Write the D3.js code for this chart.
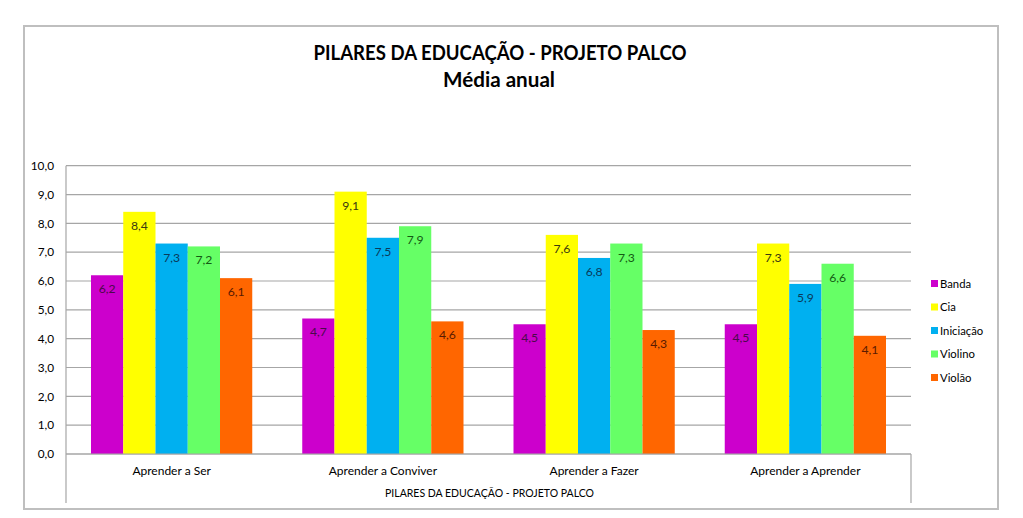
<!DOCTYPE html>
<html>
<head>
<meta charset="utf-8">
<script src="https://cdn.jsdelivr.net/npm/d3@7"></script>
<style>
  html, body { margin: 0; padding: 0; background: #ffffff; }
  svg { display: block; font-family: Lato, "Open Sans", sans-serif; }
</style>
</head>
<body>
<svg id="chart" width="1023" height="518"></svg>
<script>
const categories = ["Aprender a Ser", "Aprender a Conviver", "Aprender a Fazer", "Aprender a Aprender"];
const seriesNames = ["Banda", "Cia", "Iniciação", "Violino", "Violão"];
const banda     = [6.2, 4.7, 4.5, 4.5];
const cia       = [8.4, 9.1, 7.6, 7.3];
const iniciacao = [7.3, 7.5, 6.8, 5.9];
const violino   = [7.2, 7.9, 7.3, 6.6];
const violao    = [6.1, 4.6, 4.3, 4.1];
const yTicks = [0, 1, 2, 3, 4, 5, 6, 7, 8, 9, 10];
const titleText = "PILARES DA EDUCAÇÃO - PROJETO PALCO";
const subtitleText = "Média anual";
const axisTitleText = "PILARES DA EDUCAÇÃO - PROJETO PALCO";

const seriesValues = [banda, cia, iniciacao, violino, violao];
const fills = ["#CC00CC", "#FFFF00", "#00B0F0", "#66FF66", "#FF6600"];
const labelColors = ["#4a0a4a", "#3a3a10", "#0a3a5a", "#145a14", "#5a1a00"];

const svg = d3.select("#chart");

// outer frame
svg.append("rect").attr("x", 24).attr("y", 26).attr("width", 974).attr("height", 483)
  .attr("fill", "#fff").attr("stroke", "#bfbfbf").attr("stroke-width", 2);

// titles
svg.append("text").attr("x", 500).attr("y", 60).attr("text-anchor", "middle")
  .attr("font-size", 21).attr("font-weight", "bold").attr("fill", "#000")
  .attr("textLength", 373).attr("lengthAdjust", "spacingAndGlyphs").text(titleText);
svg.append("text").attr("x", 499).attr("y", 87).attr("text-anchor", "middle")
  .attr("font-size", 21).attr("font-weight", "bold").attr("fill", "#000")
  .attr("textLength", 112).attr("lengthAdjust", "spacingAndGlyphs").text(subtitleText);

const pLeft = 66, pRight = 911, pTop = 165.7, pBottom = 454;

const y = d3.scaleLinear().domain([0, 10]).range([pBottom, pTop]);
const x0 = d3.scaleBand().domain(categories).range([pLeft, pRight])
  .paddingInner(0.2367).paddingOuter(0.11835);
const x1 = d3.scaleBand().domain(seriesNames).range([0, x0.bandwidth()]);

// gridlines
svg.append("g").selectAll("line").data(yTicks).join("line")
  .attr("x1", pLeft).attr("x2", pRight)
  .attr("y1", d => y(d)).attr("y2", d => y(d))
  .attr("stroke", "#a6a6a6").attr("stroke-width", 1.2);

// y axis
const yAxis = d3.axisLeft(y).tickValues(yTicks)
  .tickFormat(d => d3.format(".1f")(d).replace(".", ",")).tickSize(0).tickPadding(12);
const gy = svg.append("g").attr("transform", `translate(${pLeft},0)`).call(yAxis);
gy.select(".domain").remove();
gy.selectAll("text").attr("font-size", 11.8).attr("fill", "#000")
  .attr("font-family", "Lato, 'Open Sans', sans-serif");

// axis frame lines
svg.append("line").attr("x1", pLeft).attr("x2", pLeft).attr("y1", pTop).attr("y2", 503)
  .attr("stroke", "#a6a6a6").attr("stroke-width", 1.2);
svg.append("line").attr("x1", pRight).attr("x2", pRight).attr("y1", pBottom).attr("y2", 503)
  .attr("stroke", "#a6a6a6").attr("stroke-width", 1.2);

// bars
const groups = svg.append("g").selectAll("g").data(categories).join("g")
  .attr("transform", d => `translate(${x0(d)},0)`);

groups.each(function(cat, ci) {
  const g = d3.select(this);
  const rows = seriesNames.map((s, si) => ({ s, si, v: seriesValues[si][ci] }));
  g.selectAll("rect").data(rows).join("rect")
    .attr("x", d => x1(d.s)).attr("width", x1.bandwidth())
    .attr("y", d => y(d.v)).attr("height", d => y(0) - y(d.v))
    .attr("fill", d => fills[d.si]);
  g.selectAll("text").data(rows).join("text")
    .attr("x", d => x1(d.s) + x1.bandwidth() / 2)
    .attr("y", d => y(d.v) + 18)
    .attr("text-anchor", "middle").attr("font-size", 12.2)
    .attr("fill", d => labelColors[d.si])
    .text(d => d3.format(".1f")(d.v).replace(".", ","));
});

// x axis category labels
const xAxis = d3.axisBottom(x0).tickSize(0).tickPadding(12);
const gx = svg.append("g").attr("transform", `translate(0,${pBottom})`).call(xAxis);
gx.select(".domain").remove();
gx.selectAll("text").attr("font-size", 12).attr("fill", "#000")
  .attr("font-family", "Lato, 'Open Sans', sans-serif");

// baseline
svg.append("line").attr("x1", pLeft).attr("x2", pRight).attr("y1", pBottom).attr("y2", pBottom)
  .attr("stroke", "#a6a6a6").attr("stroke-width", 1.2);

// axis title
svg.append("text").attr("x", 489.5).attr("y", 497).attr("text-anchor", "middle")
  .attr("font-size", 11.5).attr("fill", "#000")
  .attr("textLength", 209).attr("lengthAdjust", "spacingAndGlyphs").text(axisTitleText);

// legend
const legend = svg.append("g").selectAll("g").data(seriesNames).join("g")
  .attr("transform", (d, i) => `translate(931,${283.5 + i * 23.5})`);
legend.append("rect").attr("x", 0).attr("y", -3.5).attr("width", 7).attr("height", 7)
  .attr("fill", (d, i) => fills[i]);
legend.append("text").attr("x", 9).attr("y", 4).attr("font-size", 11.3).attr("fill", "#000")
  .text(d => d);
</script>
</body>
</html>
